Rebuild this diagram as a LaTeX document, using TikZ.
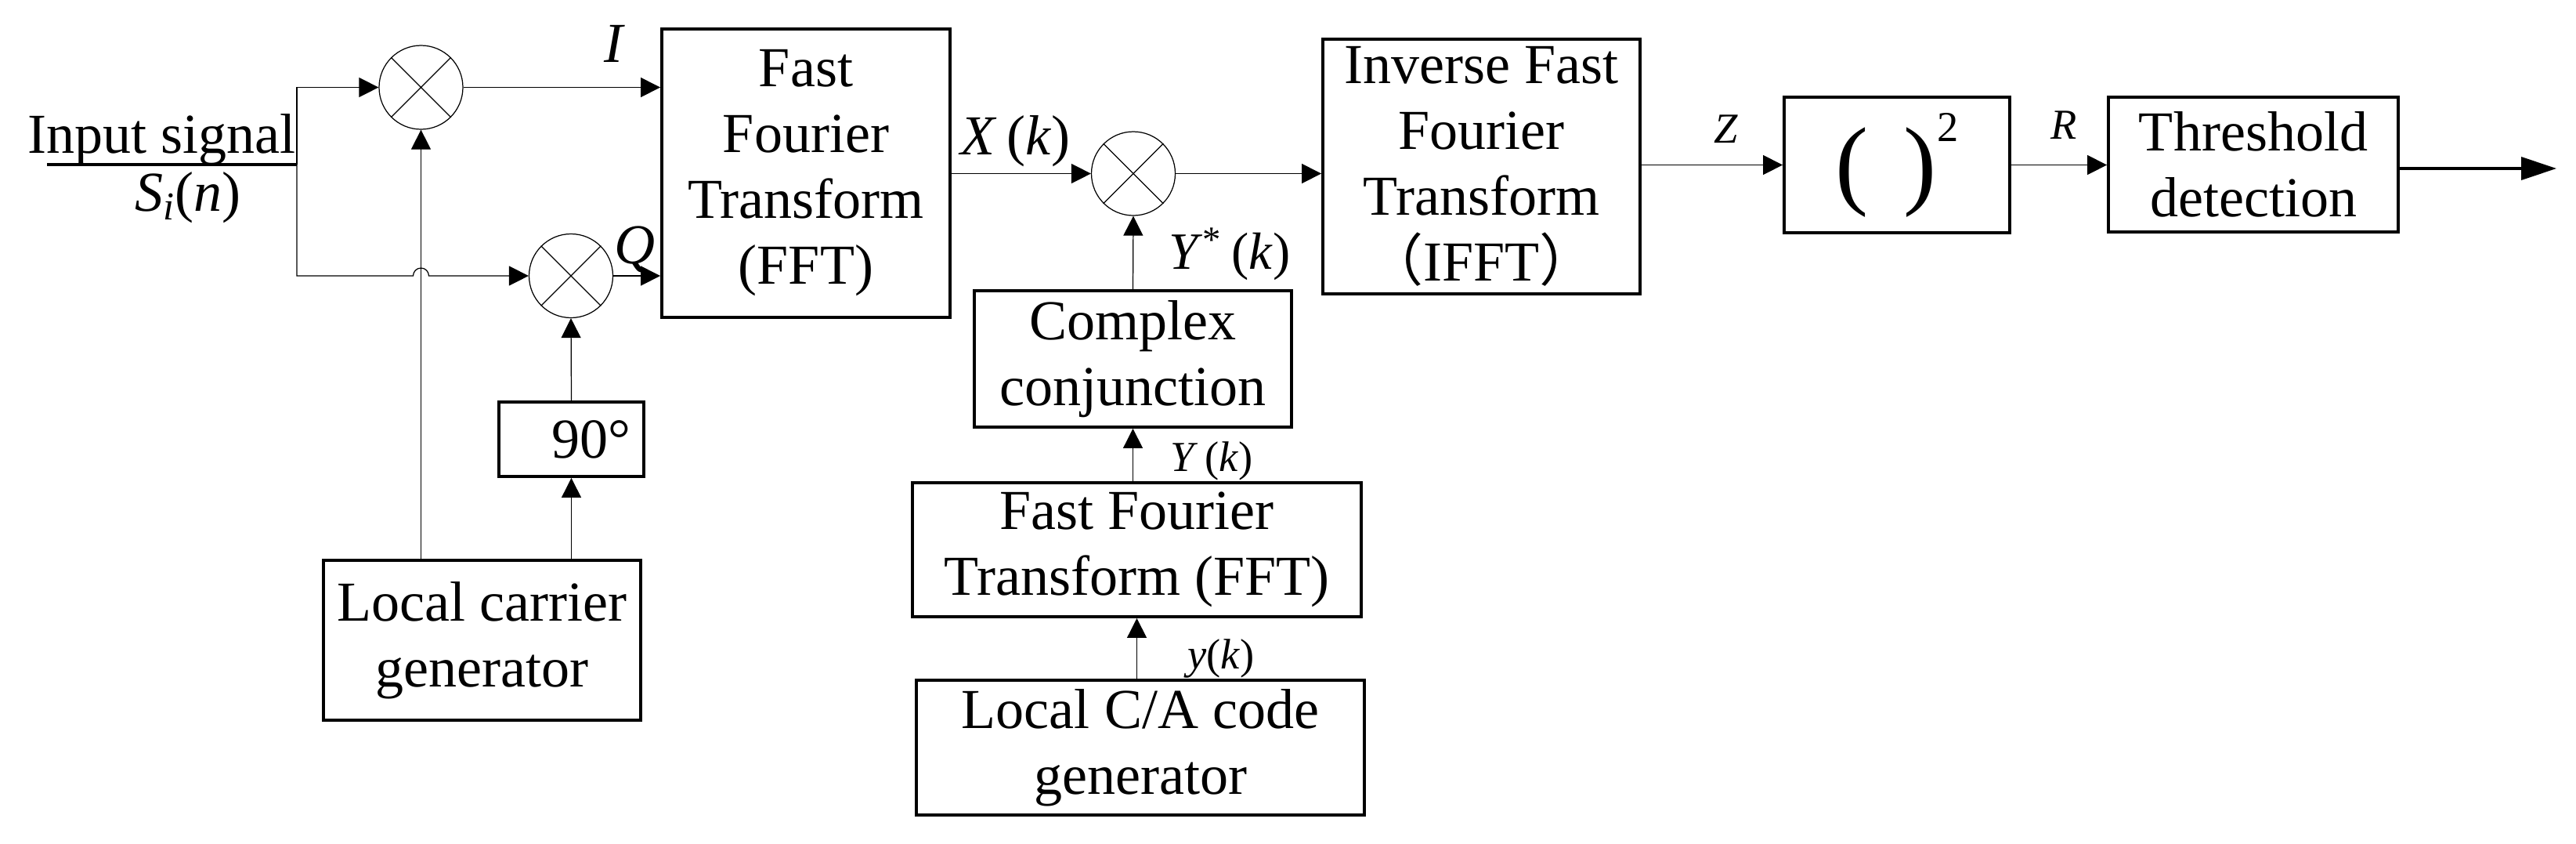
\documentclass[tikz,border=0pt]{standalone}
\usepackage{fontspec}
\setmainfont{Liberation Serif}
\newfontfamily\cjk{Noto Sans CJK SC}
\usepackage{tikz}
\usetikzlibrary{arrows.meta}

\tikzset{
    blk/.style={draw, line width=1.1pt, align=center, inner sep=0pt},
    mix/.style={draw, circle, line width=0.35pt, minimum size=1.07cm, inner sep=0pt},
    sig/.style={line width=0.35pt, -{Triangle[length=0.25cm, width=0.25cm]}},
    lbl/.style={inner sep=0pt},
    slbl/.style={inner sep=0pt, font=\fontsize{15.5}{18}\selectfont},
}

\begin{document}
\begin{tikzpicture}[font=\fontsize{20.5}{23.9}\selectfont]
    \useasboundingbox (0,0) rectangle (32.89,-10.76);
    \node[blk, minimum width=3.68cm, minimum height=3.68cm] (fft) at (10.29,-2.21) {Fast\\Fourier\\Transform\\(FFT)};
    \node[blk, minimum width=4.05cm, minimum height=3.25cm] (ifft) at (18.915,-2.125) {Inverse Fast\\Fourier\\Transform\\{\cjk （}IFFT{\cjk ）}};
    \node[blk, minimum width=2.88cm, minimum height=1.73cm] (sq) at (24.22,-2.105) {{\fontsize{36}{36}\selectfont(\hspace{0.45cm})}\raisebox{0.70cm}{\fontsize{15.5}{16}\selectfont 2}};
    \node[blk, minimum width=3.70cm, minimum height=1.72cm] (thr) at (28.77,-2.10) {Threshold\\detection};
    \node[blk, minimum width=4.05cm, minimum height=1.74cm] (conj) at (14.465,-4.58) {Complex\\conjunction};
    \node[blk, minimum width=5.73cm, minimum height=1.71cm] (fft2) at (14.515,-7.015) {Fast Fourier\\Transform (FFT)};
    \node[blk, minimum width=5.72cm, minimum height=1.72cm] (ca) at (14.56,-9.54) {Local C/A code\\generator};
    \node[blk, minimum width=4.05cm, minimum height=2.04cm] (lc) at (6.155,-8.17) {Local carrier\\generator};
    \node[blk, minimum width=1.85cm, minimum height=0.95cm] (p90) at (7.295,-5.605) {\hspace{0.5cm}90°};

    \node[mix] (mI) at (5.375,-1.115) {};
    \node[mix] (mQ) at (7.29,-3.52) {};
    \node[mix] (mX) at (14.47,-2.215) {};
    \foreach \m in {mI,mQ,mX}
        \draw[line width=0.35pt] (\m.north west) -- (\m.south east) (\m.north east) -- (\m.south west);

    \coordinate (inL) at (0.60,-2.10);
    \coordinate (br) at (3.79,-2.10);
    \coordinate (out) at (32.64,-2.15);

    \draw[line width=1.1pt] (inL) -- (br);
    \draw[sig] (br) |- (mI.west);
    \draw[sig] (br) -- (br |- mQ) -- ([xshift=-0.1cm]mI |- mQ) arc[start angle=180, end angle=0, radius=0.1cm] -- (mQ.west);
    \draw[sig] (mI.east) -- (mI.east -| fft.west);
    \draw[sig] (mQ.east) -- (mQ.east -| fft.west);
    \draw[sig] (lc.north -| mI) -- (mI.south);
    \draw[sig] (lc.north -| p90) -- (p90.south);
    \draw[sig] (p90.north) -- (mQ.south);
    \draw[sig] (fft.east |- mX) -- (mX.west);
    \draw[sig] (mX.east) -- (mX.east -| ifft.west);
    \draw[sig] (conj.north) -- (mX.south);
    \draw[sig] (fft2.north -| conj) -- (conj.south);
    \draw[sig] (ca.north -| fft2) -- (fft2.south);
    \draw[sig] (ifft.east |- sq) -- (sq.west);
    \draw[sig] (sq.east) -- (sq.east -| thr.west);
    \draw[line width=1.1pt, -{Triangle[length=0.45cm, width=0.29cm]}] ([yshift=-0.05cm]thr.east) -- (out);

    \node[lbl, anchor=base] (insig) at (2.065,-1.95) {Input signal};
    \node[lbl] (sin) at (2.40,-2.525) {\textit{S}\textsubscript{\textit{i}}(\textit{n})};
    \node[lbl] (lI) at (7.85,-0.56) {\textit{I}};
    \node[lbl] (lQ) at (8.11,-3.18) {\textit{Q}};
    \node[lbl] (lX) at (12.965,-1.80) {\textit{X}\,(\textit{k})};
    \node[lbl, font=\fontsize{19}{22}\selectfont] (lYs) at (15.70,-3.24) {\textit{Y}\textsuperscript{*}\,(\textit{k})};
    \node[slbl] (lY) at (15.47,-5.88) {\textit{Y}\,(\textit{k})};
    \node[slbl] (ly) at (15.59,-8.40) {\textit{y}(\textit{k})};
    \node[slbl] (lZ) at (22.04,-1.65) {\textit{Z}};
    \node[slbl] (lR) at (26.35,-1.595) {\textit{R}};
\end{tikzpicture}
\end{document}
